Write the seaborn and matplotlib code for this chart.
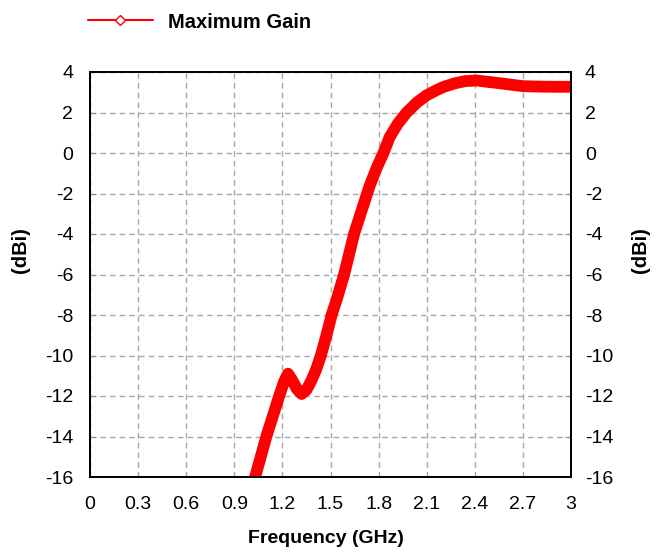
import matplotlib
matplotlib.use("Agg")
import matplotlib.pyplot as plt
import seaborn as sns
from matplotlib.lines import Line2D

# values
freq_ghz = [0.99, 1.03, 1.10, 1.18, 1.21, 1.235, 1.26, 1.29, 1.32, 1.35, 1.38,
            1.41, 1.44, 1.475, 1.507, 1.54, 1.585, 1.647, 1.70, 1.745, 1.79,
            1.83, 1.87, 1.92, 1.975, 2.04, 2.10, 2.16, 2.21, 2.28, 2.34,
            2.41, 2.475, 2.55, 2.62, 2.70, 2.80, 2.90, 3.00]
gain_dbi = [-16.8, -16.0, -14.0, -12.0, -11.3, -10.9, -11.2, -11.65, -11.9, -11.7, -11.25,
            -10.7, -10.0, -9.0, -8.0, -7.2, -6.0, -4.0, -2.7, -1.6, -0.7,
            0.0, 0.8, 1.45, 2.0, 2.5, 2.85, 3.1, 3.28, 3.45, 3.55,
            3.58, 3.52, 3.45, 3.38, 3.3, 3.28, 3.27, 3.27]

x_ticks = [0, 0.3, 0.6, 0.9, 1.2, 1.5, 1.8, 2.1, 2.4, 2.7, 3]
x_labels = ["0", "0.3", "0.6", "0.9", "1.2", "1.5", "1.8", "2.1", "2.4", "2.7", "3"]
y_ticks = [4, 2, 0, -2, -4, -6, -8, -10, -12, -14, -16]
series_name = "Maximum Gain"

sns.set_style("white")
plt.rcParams["font.family"] = ["Liberation Sans", "DejaVu Sans"]
plt.rcParams["axes.unicode_minus"] = False

fig = plt.figure(figsize=(6.61, 5.53), dpi=100)
ax = fig.add_axes([90 / 661, 1 - 477 / 553, 481 / 661, 405 / 553])

sns.lineplot(x=freq_ghz, y=gain_dbi, ax=ax, color="#ff0000", linewidth=8.5,
             solid_joinstyle="round", solid_capstyle="butt", zorder=3)

ax.set_xlim(0, 3)
ax.set_ylim(-16, 4)
ax.set_xticks(x_ticks)
ax.set_xticklabels(x_labels)
ax.set_yticks(y_ticks)
ax.grid(True, color="#a8a8a8", linestyle=(0, (4, 3)), linewidth=1)
ax.tick_params(direction="in", length=4, color="#909090", labelsize=14,
               labelcolor="black")
ax.tick_params(axis="y", pad=12)
ax.tick_params(axis="x", pad=14)
for s in ax.spines.values():
    s.set_color("black")
    s.set_linewidth(1.3)

ax.set_xlabel("Frequency (GHz)", fontsize=14, fontweight="bold", color="black")
ax.xaxis.set_label_coords(0.49, -0.13)
ax.set_ylabel("(dBi)", fontsize=14.5, fontweight="bold", color="black")
ax.yaxis.set_label_coords(-0.125, 0.56)

ax2 = ax.twinx()
ax2.set_ylim(-16, 4)
ax2.set_yticks(y_ticks)
ax2.tick_params(direction="in", length=4, color="#909090", labelsize=14,
                labelcolor="black", pad=10)
ax2.set_ylabel("(dBi)", fontsize=14.5, fontweight="bold", color="black")
ax2.yaxis.set_label_coords(1.125, 0.56)
ax2.grid(False)
for s in ax2.spines.values():
    s.set_color("black")
    s.set_linewidth(1.3)

handle = Line2D([0], [0], color="#ff0000", linewidth=1.5, marker="D", markersize=5,
                markerfacecolor="white", markeredgecolor="#ff0000")
leg = fig.legend([handle], [series_name], loc="center left", bbox_to_anchor=(70 / 661, 1 - 22 / 553),
                 frameon=False, handlelength=3.2, handletextpad=0.75,
                 prop={"size": 14.5, "weight": "bold"})
for t in leg.get_texts():
    t.set_color("black")

fig.savefig("out.png", dpi=100)
